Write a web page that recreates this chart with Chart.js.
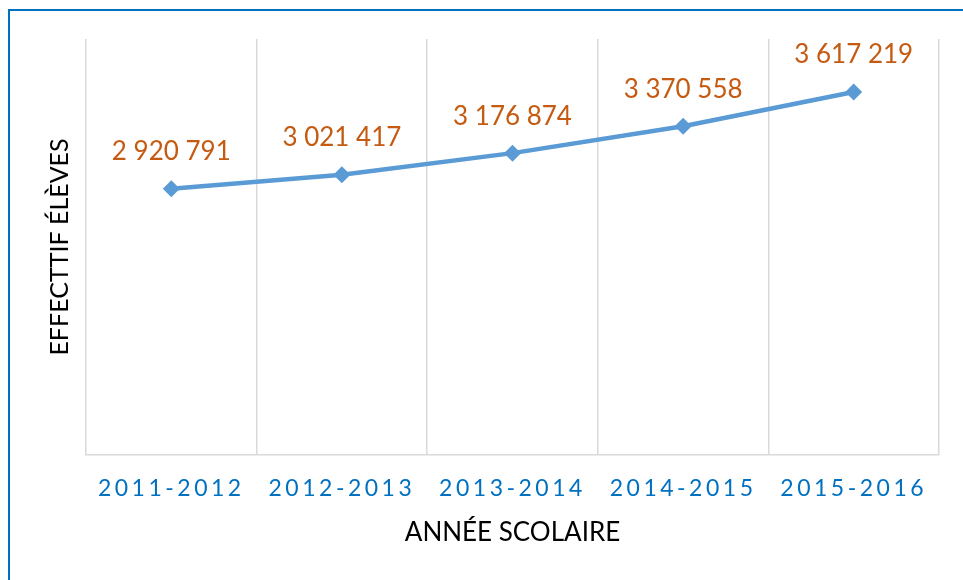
<!DOCTYPE html>
<html>
<head>
<meta charset="utf-8">
<script src="https://cdn.jsdelivr.net/npm/chart.js@4"></script>
<style>
  html, body { margin: 0; padding: 0; background: #fff; }
  #wrap { position: relative; width: 963px; height: 580px; overflow: hidden; }
  #frame { position: absolute; left: 8px; top: 9px; width: 1000px; height: 1000px;
           border-top: 2px solid #0070C0; border-left: 2px solid #0070C0; }
  #c { position: absolute; left: 0; top: 0; }
</style>
</head>
<body>
<div id="wrap">
  <div id="frame"></div>
  <canvas id="c" width="963" height="580"></canvas>
</div>
<script>
// données
var annees = ["2011-2012", "2012-2013", "2013-2014", "2014-2015", "2015-2016"];
var effectifs = [2920791, 3021417, 3176874, 3370558, 3617219];
var yMin = 1000000, yMax = 4000000;

function fmt(n) {
  return String(n).replace(/\B(?=(\d{3})+(?!\d))/g, " ");
}

// étiquettes de données au-dessus des points
var labelsPlugin = {
  id: "valeurs",
  afterDatasetsDraw: function(chart) {
    var ctx = chart.ctx;
    var meta = chart.getDatasetMeta(0);
    ctx.save();
    ctx.font = "26px Lato";
    ctx.fillStyle = "#C55A11";
    ctx.textAlign = "center";
    ctx.textBaseline = "middle";
    meta.data.forEach(function(pt, i) {
      ctx.fillText(fmt(effectifs[i]), pt.x, pt.y - 37);
    });
    ctx.restore();
  }
};

// espacement des lettres pour les années
var spacingPlugin = {
  id: "espacement",
  afterLayout: function(chart) {
    var sx = chart.scales.x;
    if (sx && !sx._spaced) {
      var orig = sx.drawLabels;
      sx.drawLabels = function(area) {
        chart.ctx.save();
        chart.ctx.letterSpacing = "3.5px";
        orig.call(this, area);
        chart.ctx.restore();
      };
      sx._spaced = true;
    }
  }
};

var ctx = document.getElementById("c");
var chart = new Chart(ctx, {
  type: "line",
  data: {
    labels: annees,
    datasets: [{
      data: effectifs,
      borderColor: "#5B9BD5",
      backgroundColor: "#5B9BD5",
      borderWidth: 4.5,
      pointStyle: "rectRot",
      pointRadius: 8.5,
      pointBorderWidth: 0,
      pointBackgroundColor: "#5B9BD5",
      tension: 0,
      fill: false
    }]
  },
  options: {
    responsive: false,
    animation: false,
    devicePixelRatio: 1,
    layout: { padding: { left: 0, top: 39, right: 24, bottom: 0 } },
    plugins: { legend: { display: false }, tooltip: { enabled: false } },
    scales: {
      x: {
        offset: true,
        grid: { display: true, offset: true, color: "#D9D9D9", lineWidth: 1.5, drawTicks: false },
        border: { display: true, color: "#D9D9D9", width: 1.5 },
        ticks: { color: "#0070C0", font: { family: "Lato", size: 23 }, padding: 20 },
        title: { display: true, text: "ANNÉE SCOLAIRE", color: "#000",
                 font: { family: "Lato", size: 26 }, padding: { top: 0, bottom: 32 } },
        afterFit: function(s) { s.height = 125; }
      },
      y: {
        min: yMin,
        max: yMax,
        grid: { display: false },
        border: { display: false },
        ticks: { display: false },
        title: { display: true, text: "EFFECTTIF ÉLÈVES", color: "#000",
                 font: { family: "Lato", size: 25 }, padding: { top: 45, bottom: 0 } },
        afterFit: function(s) { s.width = 86; }
      }
    }
  },
  plugins: [labelsPlugin, spacingPlugin]
});
</script>
</body>
</html>
